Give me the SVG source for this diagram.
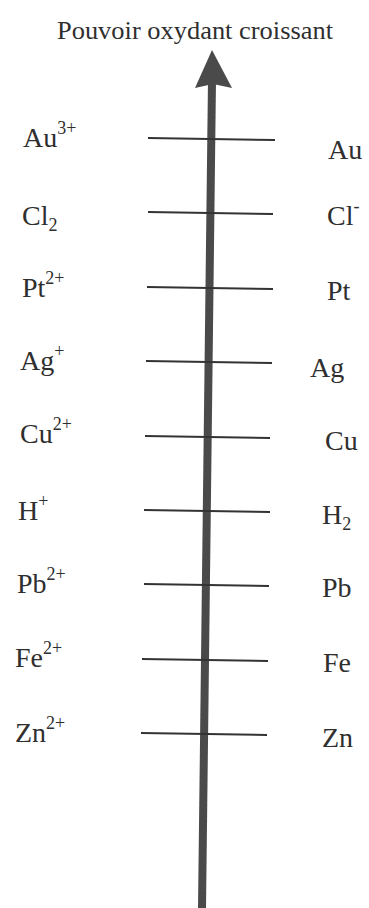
<svg xmlns="http://www.w3.org/2000/svg" width="369" height="908" viewBox="0 0 369 908">
<style>
text{font-family:"Liberation Serif","Times New Roman",serif;fill:#2f2f2f}
.lb{font-size:28px}
.sup{font-size:18px}
.title{font-size:25px}
.tick{stroke:#333;stroke-width:2;fill:none}
.shaft{stroke:#4a4a4a;stroke-width:8;fill:none}
</style>
<rect width="369" height="908" fill="#fff"/>
<g id="title"><text class="title" x="57" y="39" textLength="276" lengthAdjust="spacingAndGlyphs">Pouvoir oxydant croissant</text></g>
<g id="connectors">
<line class="shaft" x1="202" y1="908" x2="212" y2="80"/>
<polygon points="212,50 232,88 213,84 195,88" fill="#4a4a4a"/>
<line class="tick" x1="148" y1="138" x2="275" y2="140"/>
<line class="tick" x1="148" y1="212" x2="273" y2="214"/>
<line class="tick" x1="147" y1="287" x2="273" y2="289"/>
<line class="tick" x1="146" y1="361" x2="272" y2="363"/>
<line class="tick" x1="145" y1="436" x2="270" y2="438"/>
<line class="tick" x1="144" y1="510" x2="270" y2="512"/>
<line class="tick" x1="144" y1="584" x2="269" y2="586"/>
<line class="tick" x1="142" y1="659" x2="268" y2="661"/>
<line class="tick" x1="141" y1="733" x2="267" y2="735"/>
</g>
<g id="Au3"><text class="lb" x="23" y="147">Au<tspan class="sup" dy="-13">3+</tspan></text></g>
<g id="Au"><text class="lb" x="328" y="159">Au</text></g>
<g id="Cl2"><text class="lb" x="22" y="225">Cl<tspan class="sup" dy="6">2</tspan></text></g>
<g id="Clm"><text class="lb" x="327" y="225">Cl<tspan class="sup" dy="-13">-</tspan></text></g>
<g id="Pt2"><text class="lb" x="22" y="297">Pt<tspan class="sup" dy="-13">2+</tspan></text></g>
<g id="Pt"><text class="lb" x="327" y="300">Pt</text></g>
<g id="Agp"><text class="lb" x="20" y="370">Ag<tspan class="sup" dy="-13">+</tspan></text></g>
<g id="Ag"><text class="lb" x="310" y="377">Ag</text></g>
<g id="Cu2"><text class="lb" x="20" y="443">Cu<tspan class="sup" dy="-13">2+</tspan></text></g>
<g id="Cu"><text class="lb" x="325" y="450">Cu</text></g>
<g id="Hp"><text class="lb" x="18" y="520">H<tspan class="sup" dy="-13">+</tspan></text></g>
<g id="H2"><text class="lb" x="322" y="524">H<tspan class="sup" dy="6">2</tspan></text></g>
<g id="Pb2"><text class="lb" x="17" y="593">Pb<tspan class="sup" dy="-13">2+</tspan></text></g>
<g id="Pb"><text class="lb" x="322" y="597">Pb</text></g>
<g id="Fe2"><text class="lb" x="15" y="667">Fe<tspan class="sup" dy="-13">2+</tspan></text></g>
<g id="Fe"><text class="lb" x="323" y="672">Fe</text></g>
<g id="Zn2"><text class="lb" x="15" y="742">Zn<tspan class="sup" dy="-13">2+</tspan></text></g>
<g id="Zn"><text class="lb" x="322" y="747">Zn</text></g>
</svg>
